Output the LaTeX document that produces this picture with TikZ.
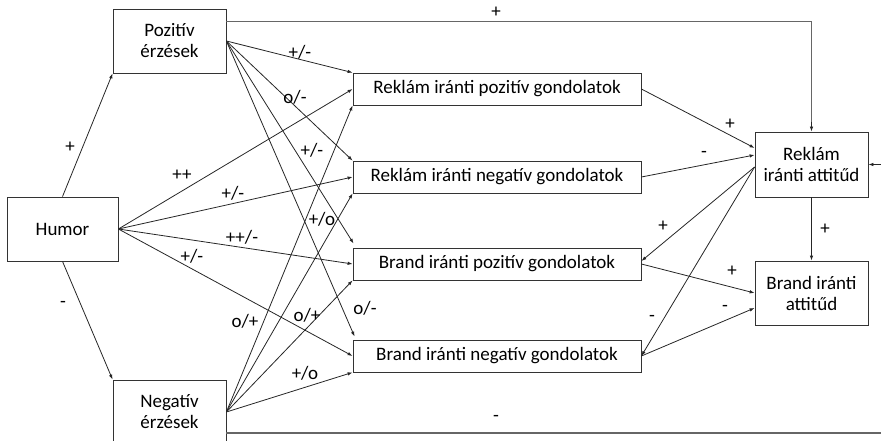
\documentclass[tikz,border=0pt]{standalone}
\usepackage{fontspec}
\setmainfont{Carlito}
\usetikzlibrary{arrows.meta,calc}
\begin{document}
\begin{tikzpicture}[x=1pt,y=-1pt,
  box/.style={draw=black!80,line width=0.8pt,align=center,inner sep=0pt,
    font=\fontsize{19}{21}\selectfont},
  lbl/.style={inner sep=0pt,font=\fontsize{19}{21}\selectfont},
  conn/.style={draw=black!85,line width=0.8pt,-{Latex[length=5pt,width=3.5pt]}},
  longline/.style={draw=black!60,line width=1.4pt}]
\useasboundingbox (0,0) rectangle (881,441);
% nodes
\node[box,minimum width=113pt,minimum height=64pt] (poz) at (169.5,41) {Pozitív\\érzések};
\node[box,minimum width=111pt,minimum height=64pt] (hum) at (62.5,229) {Humor};
\node[box,minimum width=113pt,minimum height=64pt] (neg) at (169.5,412) {Negatív\\érzések};
\node[box,minimum width=288pt,minimum height=32pt] (rp) at (497,89) {Reklám iránti pozitív gondolatok};
\node[box,minimum width=288pt,minimum height=32pt] (rn) at (497,177) {Reklám iránti negatív gondolatok};
\node[box,minimum width=288pt,minimum height=32pt] (bp) at (497,264) {Brand iránti pozitív gondolatok};
\node[box,minimum width=288pt,minimum height=32pt] (bn) at (497,356) {Brand iránti negatív gondolatok};
\node[box,minimum width=113pt,minimum height=65pt] (ra) at (811.5,164.5) {Reklám\\iránti attitűd};
\node[box,minimum width=113pt,minimum height=64pt] (ba) at (811.5,293) {Brand iránti\\attitűd};
\coordinate (rin) at (881,164.5);
\coordinate (bend) at (881,433);
% Humor
\draw[conn] (hum.north) -- (poz.south west);
\draw[conn] (hum.south) -- (neg.north west);
\draw[conn] (hum.east) -- (rp.west);
\draw[conn] (hum.east) -- (rn.west);
\draw[conn] (hum.east) -- (bp.west);
\draw[conn] (hum.east) -- (bn.west);
% Pozitiv
\draw[conn] (poz.east) -- (rp.north west);
\draw[conn] (poz.east) -- (rn.north west);
\draw[conn] (poz.east) -- ($(bp.north west)+(1,-4)$);
\draw[conn] (poz.east) -- ($(bn.north west)+(2,-3)$);
% Negativ
\draw[conn] (neg.east) -- (rp.south west);
\draw[conn] (neg.east) -- (rn.south west);
\draw[conn] (neg.east) -- (bp.south west);
\draw[conn] (neg.east) -- (bn.south west);
% right side
\draw[conn] (rp.east) -- ($(ra.west)+(0,-16.5)$);
\draw[conn] (rn.east) -- ($(ra.west)+(0,-9.5)$);
\draw[conn] ($(ra.west)+(0,2.5)$) -- ($(bp.east)+(0,-3)$);
\draw[conn] ($(ra.west)+(0,2.5)$) -- (bn.east);
\draw[conn] (bp.east) -- (ba.west);
\draw[conn] (bn.east) -- ($(ba.west)+(0,15)$);
\draw[conn] (ra.south) -- (ba.north);
\draw[longline] ($(poz.north east)+(0,13)$) -| ($(ra.north)+(0,-8)$);
\draw[conn] ($(ra.north)+(0,-10)$) -- (ra.north);
\draw[longline] ($(neg.east)+(0,21)$) -- (bend);
\draw[conn] (rin) -- (ra.east);
% labels
\node[lbl] (l1) at (496,12) {+};
\node[lbl] (l2) at (300,52) {+/-};
\node[lbl] (l3) at (295,97) {o/-};
\node[lbl] (l4) at (312,150) {+/-};
\node[lbl] (l5) at (182,175) {++};
\node[lbl] (l6) at (233,193) {+/-};
\node[lbl] (l7) at (322,219) {+/o};
\node[lbl] (l8) at (242,237) {++/-};
\node[lbl] (l9) at (192,256) {+/-};
\node[lbl] (l10) at (63,304) {-};
\node[lbl] (l11) at (70,147) {+};
\node[lbl] (l12) at (245,321) {o/+};
\node[lbl] (l13) at (307,315) {o/+};
\node[lbl] (l14) at (365,308) {o/-};
\node[lbl] (l15) at (305,373) {+/o};
\node[lbl] (l16) at (496,418) {-};
\node[lbl] (l17) at (730,124) {+};
\node[lbl] (l18) at (704,154) {-};
\node[lbl] (l19) at (663,226) {+};
\node[lbl] (l20) at (825,229) {+};
\node[lbl] (l21) at (732,271) {+};
\node[lbl] (l22) at (725,308) {-};
\node[lbl] (l23) at (652,318) {-};
\end{tikzpicture}
\end{document}
